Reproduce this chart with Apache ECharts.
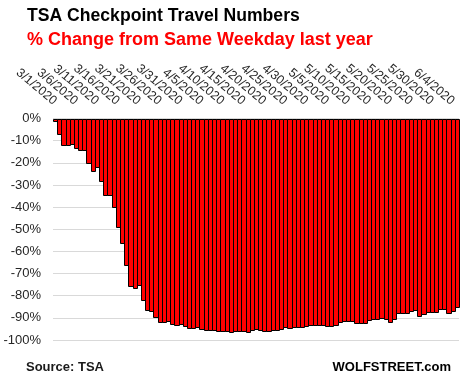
<!DOCTYPE html>
<html>
<head>
<meta charset="utf-8">
<script src="https://cdn.jsdelivr.net/npm/echarts@6/dist/echarts.min.js"></script>
<style>
html,body{margin:0;padding:0;background:#fff;}
#chart{width:462px;height:382px;}
</style>
</head>
<body>
<div id="chart"></div>
<script>
var categories = [
'3/1/2020','3/2/2020','3/3/2020','3/4/2020','3/5/2020','3/6/2020','3/7/2020','3/8/2020','3/9/2020','3/10/2020',
'3/11/2020','3/12/2020','3/13/2020','3/14/2020','3/15/2020','3/16/2020','3/17/2020','3/18/2020','3/19/2020','3/20/2020',
'3/21/2020','3/22/2020','3/23/2020','3/24/2020','3/25/2020','3/26/2020','3/27/2020','3/28/2020','3/29/2020','3/30/2020',
'3/31/2020',
'4/1/2020','4/2/2020','4/3/2020','4/4/2020','4/5/2020','4/6/2020','4/7/2020','4/8/2020','4/9/2020','4/10/2020',
'4/11/2020','4/12/2020','4/13/2020','4/14/2020','4/15/2020','4/16/2020','4/17/2020','4/18/2020','4/19/2020','4/20/2020',
'4/21/2020','4/22/2020','4/23/2020','4/24/2020','4/25/2020','4/26/2020','4/27/2020','4/28/2020','4/29/2020','4/30/2020',
'5/1/2020','5/2/2020','5/3/2020','5/4/2020','5/5/2020','5/6/2020','5/7/2020','5/8/2020','5/9/2020','5/10/2020',
'5/11/2020','5/12/2020','5/13/2020','5/14/2020','5/15/2020','5/16/2020','5/17/2020','5/18/2020','5/19/2020','5/20/2020',
'5/21/2020','5/22/2020','5/23/2020','5/24/2020','5/25/2020','5/26/2020','5/27/2020','5/28/2020','5/29/2020','5/30/2020',
'5/31/2020',
'6/1/2020','6/2/2020','6/3/2020','6/4/2020','6/5/2020'
];

var pctChange = [
-1.0,-7.2,-12.1,-12.1,-11.3,-13.3,-14.4,-14.4,-19.9,-23.9,
-21.9,-28.4,-34.6,-34.6,-40.0,-49.0,-56.4,-66.3,-75.4,-76.6,
-75.3,-82.0,-86.4,-87.0,-89.7,-91.9,-91.9,-91.5,-92.7,-93.2,
-92.9,
-93.7,-94.6,-94.6,-94.1,-95.0,-95.4,-95.4,-95.4,-95.9,-95.9,
-96.0,-96.4,-95.9,-95.9,-95.9,-96.4,-95.4,-95.1,-95.7,-95.8,
-95.8,-95.4,-95.4,-94.9,-94.3,-94.7,-94.3,-94.3,-94.2,-93.8,
-93.3,-93.2,-93.2,-93.2,-93.6,-93.6,-93.2,-92.0,-91.5,-91.5,
-91.4,-92.2,-92.5,-92.5,-91.0,-90.7,-90.7,-90.2,-90.7,-91.9,
-90.5,-87.9,-87.7,-87.7,-86.9,-86.5,-89.0,-88.4,-87.2,-87.5,
-87.3,
-86.1,-86.1,-87.9,-87.0,-85.2
];

var yTicks = {min: -100, max: 0, step: 10};

var titleText = 'TSA Checkpoint Travel Numbers';
var subtitleText = '% Change from Same Weekday last year';
var sourceText = 'Source: TSA';
var brandText = 'WOLFSTREET.com';

var FONT = '"Liberation Sans", Arial, sans-serif';

// crisp bar: red fill, 1px black outline snapped to pixel grid
function renderBar(params, api) {
  var idx = api.value(0);
  var val = api.value(1);
  var base = api.coord([idx, 0]);
  var tip = api.coord([idx, val]);
  var w = api.size([1, 0])[0];
  var x0 = Math.round(base[0] - w / 2) + 0.5;
  var x1 = Math.round(base[0] + w / 2) + 0.5;
  var y0 = Math.round(Math.min(base[1], tip[1])) + 0.5;
  var y1 = Math.round(Math.max(base[1], tip[1])) + 0.5;
  return {
    type: 'rect',
    shape: {x: x0, y: y0, width: x1 - x0, height: y1 - y0},
    style: {fill: '#ff0000', stroke: '#000000', lineWidth: 1}
  };
}

var seriesData = pctChange.map(function (v, i) { return [i, v]; });

var chart = echarts.init(document.getElementById('chart'), null, {renderer: 'canvas'});
chart.setOption({
  animation: false,
  backgroundColor: '#ffffff',
  title: [
    {text: titleText, left: 22, top: 2, textStyle: {fontFamily: FONT, fontSize: 17.6, fontWeight: 'bold', color: '#000'}},
    {text: subtitleText, left: 22, top: 26, textStyle: {fontFamily: FONT, fontSize: 18, fontWeight: 'bold', color: '#ff0000'}},
    {text: sourceText, left: 21, top: 356, textStyle: {fontFamily: FONT, fontSize: 13, fontWeight: 'bold', color: '#1a1a1a'}},
    {text: brandText, right: 6, top: 356, textStyle: {fontFamily: FONT, fontSize: 13, fontWeight: 'bold', color: '#000'}}
  ],
  grid: {left: 53, right: 3, top: 118.5, bottom: 42, containLabel: false},
  xAxis: {
    type: 'category',
    position: 'top',
    data: categories,
    axisLine: {show: false},
    axisTick: {show: false},
    axisLabel: {interval: 4, rotate: -40, margin: 16, fontFamily: FONT, fontSize: 12.5, color: '#262626'},
    splitLine: {show: false}
  },
  yAxis: {
    type: 'value',
    min: yTicks.min, max: yTicks.max, interval: yTicks.step,
    axisLine: {show: false},
    axisTick: {show: false},
    axisLabel: {formatter: function (v) { return v + '%'; }, fontFamily: FONT, fontSize: 13, color: '#262626', margin: 12},
    splitLine: {lineStyle: {color: '#d9d9d9', width: 1}}
  },
  series: [{
    type: 'custom',
    name: '% change',
    renderItem: renderBar,
    encode: {x: 0, y: 1},
    data: seriesData
  }]
});
</script>
</body>
</html>
